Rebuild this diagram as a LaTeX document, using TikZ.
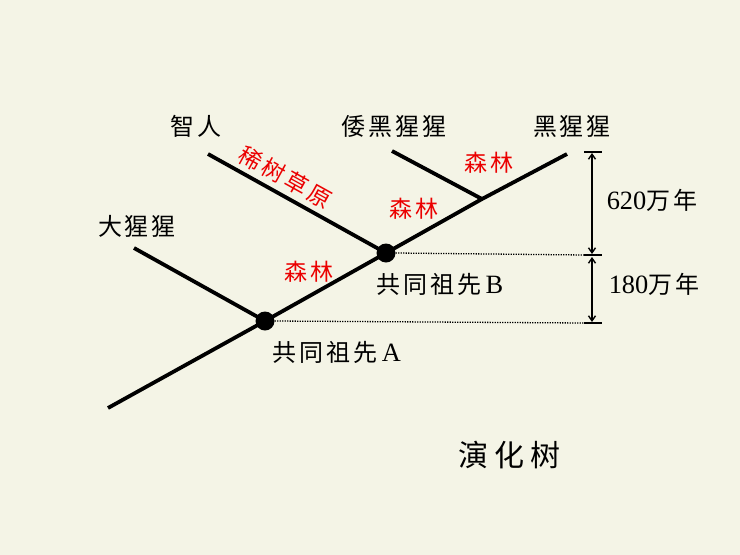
\documentclass[tikz,border=0pt]{standalone}
\usepackage{fontspec}
\setmainfont{Noto Sans CJK SC}
\newfontfamily\lat[Scale=1.1]{Liberation Serif}
\usetikzlibrary{arrows.meta}
\definecolor{bgcream}{RGB}{244,244,230}
\definecolor{lblred}{RGB}{235,0,0}
\begin{document}
\begin{tikzpicture}[x=1pt,y=-1pt,
  branch/.style={line width=3.8pt,line cap=butt},
  junction/.style={circle,fill=black,inner sep=0pt,minimum size=19pt},
  guide/.style={line width=1.3pt,dash pattern=on 1.2pt off 1.3pt},
  dimline/.style={line width=1.4pt},
  dimarrow/.style={line width=1.4pt,{Straight Barb[length=5pt,width=7pt]}-{Straight Barb[length=5pt,width=7pt]}},
  species/.style={inner sep=0pt,font=\fontsize{24}{24}\selectfont\addfontfeature{LetterSpace=12}},
  habitat/.style={inner sep=0pt,text=lblred,font=\fontsize{23}{23}\selectfont\addfontfeature{LetterSpace=14}},
  caption/.style={inner sep=0pt,font=\fontsize{24}{24}\selectfont\addfontfeature{LetterSpace=12}},
  titlelbl/.style={inner sep=0pt,font=\fontsize{30}{30}\selectfont\addfontfeature{LetterSpace=20}}]
\fill[bgcream] (0,0) rectangle (740,555);
\useasboundingbox (0,0) rectangle (740,555);

% branch points
\coordinate (root) at (108,408);
\coordinate (gorillaend) at (134,248);
\coordinate (humanend) at (208,154);
\coordinate (bonoboend) at (392,151);
\coordinate (chimpend) at (567,154);
\coordinate (split) at (482,199);
\node[junction] (dotA) at (265,321) {};
\node[junction] (dotB) at (386,253) {};

% branches
\draw[branch] (root) -- (dotA.center) -- (dotB.center) -- (split) -- (chimpend);
\draw[branch] (gorillaend) -- (dotA.center);
\draw[branch] (humanend) -- (dotB.center);
\draw[branch] (bonoboend) -- (split);

% guide lines
\coordinate (gB) at (584,255);
\coordinate (gA) at (584,323);
\draw[guide] (dotB.east) -- (gB);
\draw[guide] (dotA.east) -- (gA);

% dimension
\coordinate (t1l) at (584,152);
\coordinate (t1r) at (602,152);
\coordinate (t2r) at (602,255);
\coordinate (t3r) at (602,323);
\draw[dimline] (t1l) -- (t1r);
\draw[dimline] (gB) -- (t2r);
\draw[dimline] (gA) -- (t3r);
\coordinate (d1a) at (592,153);
\coordinate (d1b) at (592,254);
\coordinate (d2a) at (592,257);
\coordinate (d2b) at (592,322);
\draw[dimarrow] (d1a) -- (d1b);
\draw[dimarrow] (d2a) -- (d2b);

% labels
\node[species] (human) at (196,126) {智人};
\node[species] (bonobo) at (394,126) {倭黑猩猩};
\node[species] (chimp) at (572,126) {黑猩猩};
\node[species] (gorilla) at (137,226) {大猩猩};
\node[habitat,rotate=-29] (savanna) at (285,177) {稀树草原};
\node[habitat] (forest1) at (414,209) {森林};
\node[habitat] (forest2) at (489,163) {森林};
\node[habitat] (forest3) at (309,272) {森林};
\node[caption] (ancB) at (440,284) {共同祖先{\lat\,B}};
\node[caption] (ancA) at (337,352) {共同祖先{\lat\,A}};
\node[caption] (t620) at (652,200) {{\lat 620}万年};
\node[caption] (t180) at (654,284) {{\lat 180}万年};
\node[titlelbl] (title) at (509,455) {演化树};
\end{tikzpicture}
\end{document}
